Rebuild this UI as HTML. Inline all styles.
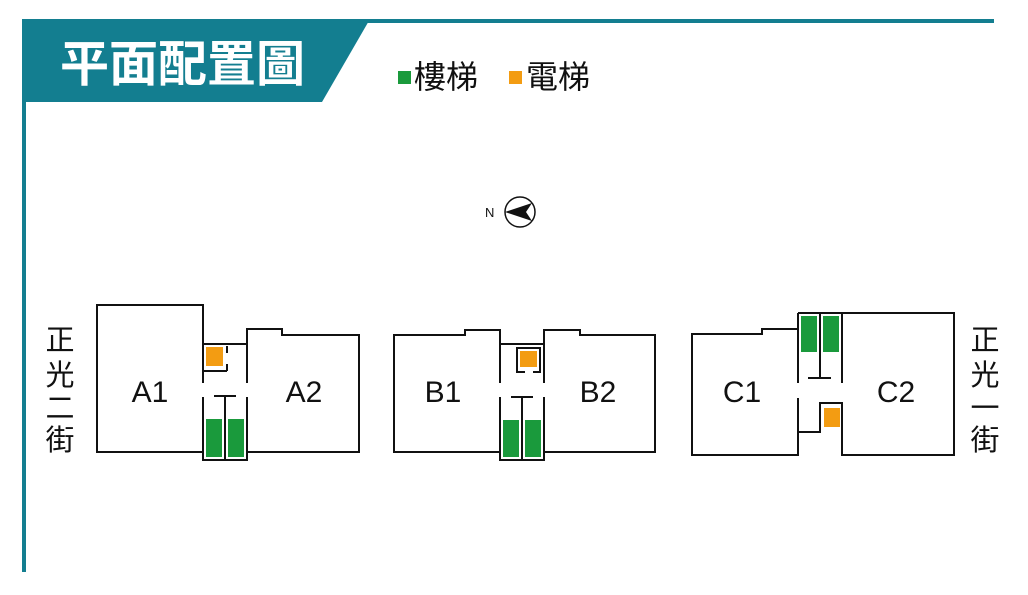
<!DOCTYPE html>
<html><head><meta charset="utf-8"><style>
body{margin:0;background:#fff;width:1028px;height:590px;overflow:hidden}
text{font-family:"Liberation Sans","Noto Sans CJK TC",sans-serif}
</style></head><body>
<svg width="1028" height="590" viewBox="0 0 1028 590" xmlns="http://www.w3.org/2000/svg">
<rect x="22" y="19" width="972" height="4" fill="#137e90"/>
<rect x="22" y="19" width="4" height="553" fill="#137e90"/>
<polygon points="22,19 370,19 322,102 22,102" fill="#137e90"/>
<text x="60" y="81" font-size="49" font-weight="bold" fill="#fff" font-family="Noto Sans CJK TC,sans-serif">平面配置圖</text>
<rect x="398" y="71" width="13" height="13" fill="#1a9a3c"/>
<text x="414" y="88" font-size="32" fill="#111">樓梯</text>
<rect x="509" y="71" width="13" height="13" fill="#f39c12"/>
<text x="526" y="88" font-size="32" fill="#111">電梯</text>
<text x="485" y="217" font-size="13" fill="#111">N</text>
<circle cx="520" cy="212" r="15" fill="none" stroke="#111" stroke-width="1.5"/>
<polygon points="505,212 532,203 526,212 532,221" fill="#111"/>
<g fill="none" stroke="#111" stroke-width="2">
<polyline points="203,383 203,305 97,305 97,452 203,452"/>
<line x1="203" y1="344" x2="247" y2="344"/>
<polyline points="247,383 247,329 282,329 282,335 359,335 359,452 247,452 247,397"/>
<polyline points="203,397 203,460 247,460 247,452"/>
<line x1="225" y1="397" x2="225" y2="460"/>
<line x1="214" y1="396" x2="236" y2="396"/>
<line x1="203" y1="371" x2="227" y2="371"/>
<line x1="227" y1="346" x2="227" y2="353"/><line x1="227" y1="364" x2="227" y2="371"/>
<polyline points="500,383 500,330 465,330 465,335 394,335 394,452 500,452"/>
<line x1="500" y1="344" x2="544" y2="344"/>
<polyline points="544,383 544,330 580,330 580,335 655,335 655,452 544,452"/>
<polyline points="500,397 500,460 544,460 544,397"/>
<line x1="522" y1="397" x2="522" y2="460"/>
<line x1="511" y1="397" x2="533" y2="397"/>
<polyline points="525,372 517,372 517,348 540,348 540,372 533,372"/>
<polyline points="798,383 798,329 762,329 762,334 692,334 692,455 798,455 798,398"/>
<line x1="798" y1="313" x2="798" y2="329"/>
<polyline points="842,383 842,313 954,313 954,455 842,455 842,402"/>
<line x1="798" y1="313" x2="842" y2="313"/>
<line x1="820" y1="313" x2="820" y2="378"/>
<line x1="808" y1="378" x2="831" y2="378"/>
<polyline points="842,403 820,403 820,432 798,432"/>
</g>
<g fill="#1a9a3c">
<rect x="206" y="419" width="16" height="38"/><rect x="228" y="419" width="16" height="38"/>
<rect x="503" y="420" width="16" height="37"/><rect x="525" y="420" width="16" height="37"/>
<rect x="801" y="316" width="16" height="36"/><rect x="823" y="316" width="16" height="36"/>
</g>
<g fill="#f39c12">
<rect x="206" y="347" width="17" height="19"/>
<rect x="520" y="351" width="17" height="16"/>
<rect x="824" y="408" width="16" height="19"/>
</g>
<g font-size="30" fill="#111" text-anchor="middle">
<text x="150" y="402">A1</text><text x="304" y="402">A2</text>
<text x="443" y="402">B1</text><text x="598" y="402">B2</text>
<text x="742" y="402">C1</text><text x="896" y="402">C2</text>
</g>
<g font-size="29" fill="#111" text-anchor="middle">
<text x="60" y="350">正</text><text x="60" y="385">光</text><text x="60" y="418">二</text><text x="60" y="450">街</text>
<text x="985" y="350">正</text><text x="985" y="385">光</text><text x="985" y="418">一</text><text x="985" y="450">街</text>
</g>
</svg>
</body></html>
